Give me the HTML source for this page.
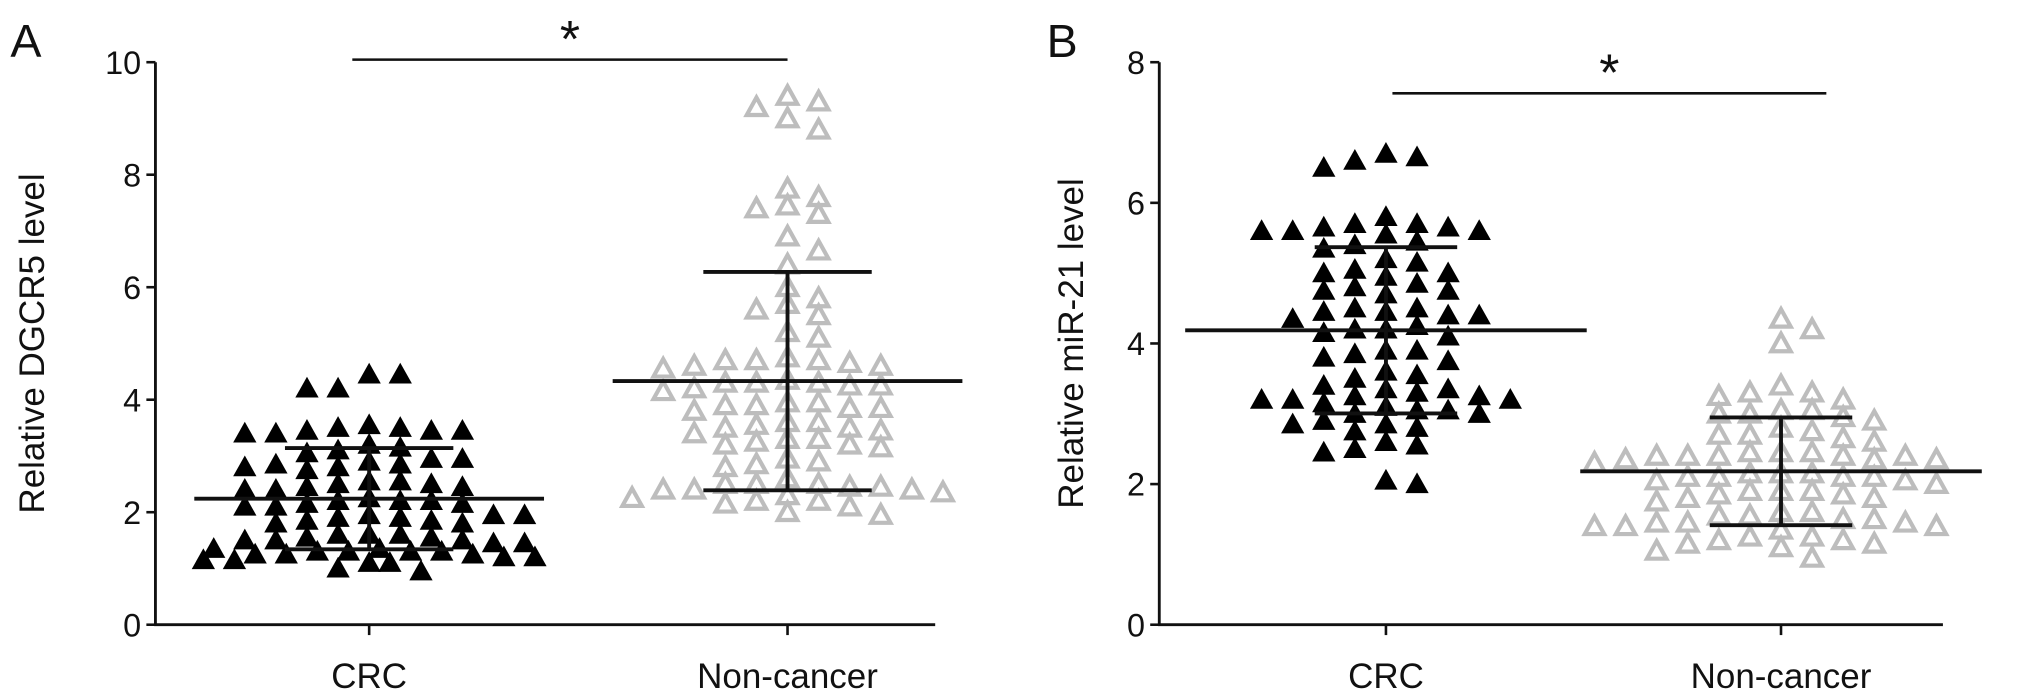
<!DOCTYPE html>
<html><head><meta charset="utf-8"><style>
html,body{margin:0;padding:0;background:#fff;}
svg{display:block;}
text{font-family:"Liberation Sans",sans-serif;fill:#111;}
</style></head><body>
<svg id="chart" width="2031" height="696" viewBox="0 0 1568 537" preserveAspectRatio="none" xmlns="http://www.w3.org/2000/svg">
<g id="pa"></g>
<g id="pb"></g>
</svg>
<script>
const categories = ["CRC", "Non-cancer"];
const ticksA = [0, 2, 4, 6, 8, 10];
const ticksB = [0, 2, 4, 6, 8];
const aCRC = [4.45,4.2,4.2,4.45,3.55,3.45,3.4,3.45,3.5,3.45,3.5,3.4,3.15,3.1,3.2,3.05,2.95,2.85,2.8,2.9,2.85,2.8,2.75,2.95,2.55,2.5,2.45,2.4,2.5,2.45,2.55,2.4,2.2,2.15,2.1,2.2,2.25,2.1,2.15,2.2,1.95,1.9,1.85,1.95,1.8,1.9,1.85,1.95,1.8,1.6,1.55,1.5,1.6,1.45,1.5,1.55,1.5,1.6,1.45,1.35,1.3,1.25,1.3,1.2,1.25,1.3,1.2,1.35,1.25,1.3,1.15,1.1,1.15,1.1,1.0,0.95];
const aNC = [9.4,9.3,9.2,9.0,8.8,7.75,7.6,7.45,7.4,7.3,6.9,6.65,6.4,6.0,5.8,5.7,5.5,5.6,5.2,5.1,4.75,4.7,4.65,4.6,4.7,4.55,4.7,4.6,4.35,4.3,4.25,4.2,4.3,4.15,4.25,4.3,3.95,3.9,3.85,3.8,3.9,3.85,3.95,3.6,3.5,3.45,3.55,3.4,3.5,3.6,3.3,3.2,3.25,3.3,3.15,3.2,2.95,2.85,2.9,2.8,2.5,2.45,2.4,2.5,2.4,2.45,2.2,2.15,2.1,2.2,2.0,1.95,2.3,2.35,2.6,2.5,2.25,2.4];
const bCRC = [6.7,6.6,6.5,6.65,5.8,5.7,5.65,5.6,5.6,5.55,5.6,5.7,5.65,5.45,5.4,5.35,5.15,5.05,5.0,5.0,4.95,5.2,4.8,4.75,4.7,4.75,4.85,4.5,4.45,4.4,4.35,4.4,4.5,4.45,4.25,4.2,4.2,4.15,4.1,3.9,3.85,3.8,3.75,3.9,3.6,3.55,3.5,3.4,3.35,3.3,3.25,3.2,3.2,3.15,3.1,3.2,3.25,3.35,3.05,3.0,3.0,3.05,2.85,2.8,2.75,2.85,2.9,2.6,2.5,2.45,2.55,2.05,2.0];
const bNC = [4.35,4.2,4.0,3.4,3.3,3.25,3.2,3.3,3.05,3.0,2.95,3.0,2.9,3.05,2.75,2.7,2.65,2.7,2.8,2.6,2.45,2.4,2.4,2.35,2.45,2.4,2.3,2.35,2.4,2.45,2.4,2.35,2.15,2.1,2.05,2.1,2.15,2.0,2.1,2.05,2.1,2.15,1.9,1.85,1.8,1.9,1.85,1.8,1.9,1.75,1.6,1.55,1.5,1.6,1.55,1.5,1.45,1.4,1.4,1.45,1.35,1.4,1.45,1.25,1.2,1.15,1.2,1.25,1.1,1.15,1.05,0.95];

const NS = "http://www.w3.org/2000/svg";
function mk(parent, tag, attrs, txt) {
  const e = document.createElementNS(NS, tag);
  for (const k in attrs) e.setAttribute(k, attrs[k]);
  if (txt !== undefined) e.textContent = txt;
  parent.appendChild(e);
  return e;
}
function stats(a) {
  const m = a.reduce((s, v) => s + v, 0) / a.length;
  const sd = Math.sqrt(a.reduce((s, v) => s + (v - m) * (v - m), 0) / (a.length - 1));
  return [m, sd];
}
function swarm(vals, yFn, maxOff) {
  const idx = vals.map((v, i) => i).sort((a, b) => vals[b] - vals[a]);
  const placed = [];
  const out = new Array(vals.length);
  const kmax = Math.floor(maxOff / 8);
  for (const i of idx) {
    const y = yFn(vals[i]);
    let best = 0, bestScore = Infinity;
    for (let k = 0; k <= kmax; k++) {
      const cands = k === 0 ? [0] : (k % 2 ? [k * 8, -k * 8] : [-k * 8, k * 8]);
      for (const c of cands) {
        let score = 0;
        placed.forEach(p => {
          const dx = Math.abs(p[0] - c), dy = Math.abs(p[1] - y);
          if (dx < 17 && dy < 12) score += (17 - dx) * (12 - dy);
        });
        if (score < bestScore - 1e-9) { bestScore = score; best = c; }
      }
      if (bestScore === 0) break;
    }
    placed.push([best, y]);
    out[i] = best;
  }
  return out;
}
function panel(g, cfg) {
  const y = v => cfg.y0 - cfg.k * v;
  const xc = [cfg.c1, cfg.c2];
  const ax = mk(g, "line", {x1: cfg.ax, y1: y(cfg.ticks[cfg.ticks.length-1]), x2: cfg.ax, y2: cfg.y0, stroke: "#111", "stroke-width": 2.2});
  
  
  const xa = mk(g, "line", {x1: cfg.ax - 1, y1: cfg.y0, x2: cfg.axEnd, y2: cfg.y0, stroke: "#111", "stroke-width": 2.2});
  
  
  cfg.ticks.forEach(t => {
    const tl = mk(g, "line", {x1: cfg.ax - 7, y1: y(t), x2: cfg.ax, y2: y(t), stroke: "#111", "stroke-width": 2});
    
    
    const tx = mk(g, "text", {x: cfg.ax - 11, y: y(t) + 9, "text-anchor": "end", "font-size": 25}, String(t));
    
    
  });
  categories.forEach((c, i) => {
    const tl = mk(g, "line", {x1: xc[i], y1: cfg.y0, x2: xc[i], y2: cfg.y0 + 8, stroke: "#111", "stroke-width": 2});
    
    
    const tx = mk(g, "text", {x: xc[i], y: 531, "text-anchor": "middle", "font-size": 27}, c);
    
    
  });
  const yt = mk(g, "text", {x: 0, y: 0, "text-anchor": "middle", "font-size": 27, transform: `translate(${cfg.titleX},265) rotate(-90)`}, cfg.title);
  
  
  const pl = mk(g, "text", {x: cfg.letterX, y: 44, "font-size": 36}, cfg.letter);
  
  
  [cfg.s1, cfg.s2].forEach((arr, gi) => {
    const offs = swarm(arr, y, cfg.maxOff);
    arr.forEach((v, i) => {
      const cx = xc[gi] + offs[i], cy = y(v);
      let p;
      if (gi === 0) p = mk(g, "polygon", {points: `${cx},${cy - 9} ${cx - 9},${cy + 7} ${cx + 9},${cy + 7}`, fill: "#000"});
      else p = mk(g, "polygon", {points: `${cx},${cy - 7.5} ${cx - 7.5},${cy + 6} ${cx + 7.5},${cy + 6}`, fill: "none", stroke: "#bdbdbd", "stroke-width": 3.2});
      
      
    });
  });
  [cfg.s1, cfg.s2].forEach((arr, gi) => {
    const [m, sd] = stats(arr);
    const x = xc[gi];
    const ml = mk(g, "line", {x1: x - cfg.mw, y1: y(m), x2: x + cfg.mw, y2: y(m), stroke: "#111", "stroke-width": 3});
    
    
    const vl = mk(g, "line", {x1: x, y1: y(m + sd), x2: x, y2: y(m - sd), stroke: "#111", "stroke-width": 3});
    
    
    [m + sd, m - sd].forEach(v => {
      const cl = mk(g, "line", {x1: x - cfg.cw, y1: y(v), x2: x + cfg.cw, y2: y(v), stroke: "#111", "stroke-width": 3});
      
      
    });
  });
  const sl = mk(g, "line", {x1: cfg.sig[0], y1: cfg.sig[2], x2: cfg.sig[1], y2: cfg.sig[2], stroke: "#111", "stroke-width": 2});
  
  
  const st = mk(g, "text", {x: (cfg.sig[0] + cfg.sig[1]) / 2, y: cfg.sig[2] - 2, "text-anchor": "middle", "font-size": 40}, "*");
  
  
}
panel(document.getElementById("pa"), {y0: 482, k: 43.4, ax: 120, axEnd: 722, c1: 285, c2: 608, ticks: ticksA, s1: aCRC, s2: aNC, title: "Relative DGCR5 level", titleX: 34, letter: "A", letterX: 8, mw: 135, cw: 65, maxOff: 128, sig: [272, 608, 46]});
panel(document.getElementById("pb"), {y0: 482, k: 54.25, ax: 895, axEnd: 1500, c1: 1070, c2: 1375, ticks: ticksB, s1: bCRC, s2: bNC, title: "Relative miR-21 level", titleX: 836, letter: "B", letterX: 808, mw: 155, cw: 55, maxOff: 145, sig: [1075, 1410, 72]});
</script>
</body></html>
